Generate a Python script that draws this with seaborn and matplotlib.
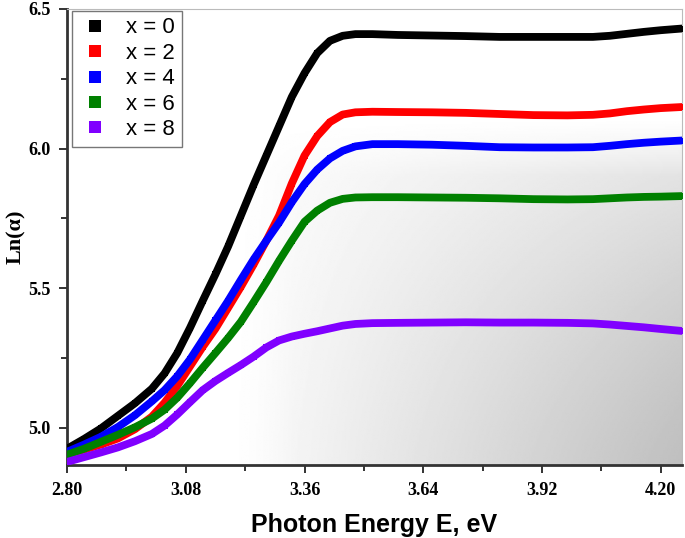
import numpy as np
import pandas as pd
import seaborn as sns
import matplotlib.pyplot as plt
from matplotlib.lines import Line2D

# Photon energy grid (eV) and Ln(alpha)
energy = [2.80, 2.84, 2.88, 2.92, 2.96, 3.00, 3.03, 3.06, 3.09, 3.12,
          3.15, 3.18, 3.21, 3.24, 3.27, 3.30, 3.33, 3.36, 3.39, 3.42,
          3.45, 3.48, 3.52, 3.58, 3.66, 3.74, 3.82, 3.90, 3.98, 4.04,
          4.08, 4.12, 4.16, 4.20, 4.25]

ln_x0 = [4.925, 4.960, 4.998, 5.043, 5.088, 5.140, 5.195, 5.268, 5.358, 5.455,
         5.550, 5.650, 5.760, 5.870, 5.975, 6.080, 6.185, 6.270, 6.342, 6.386,
         6.404, 6.410, 6.410, 6.407, 6.405, 6.403, 6.400, 6.400, 6.400, 6.400,
         6.404, 6.411, 6.418, 6.424, 6.430]

ln_x2 = [4.905, 4.922, 4.940, 4.962, 4.995, 5.040, 5.090, 5.150, 5.220, 5.290,
         5.355, 5.430, 5.505, 5.585, 5.670, 5.760, 5.875, 5.975, 6.045, 6.095,
         6.122, 6.130, 6.132, 6.131, 6.130, 6.128, 6.124, 6.120, 6.119, 6.121,
         6.126, 6.134, 6.140, 6.145, 6.149]

ln_x4 = [4.914, 4.940, 4.968, 5.003, 5.045, 5.095, 5.135, 5.185, 5.245, 5.315,
         5.385, 5.455, 5.530, 5.603, 5.670, 5.735, 5.808, 5.873, 5.925, 5.965,
         5.992, 6.008, 6.016, 6.016, 6.014, 6.010, 6.005, 6.004, 6.004, 6.005,
         6.010, 6.016, 6.021, 6.025, 6.029]

ln_x6 = [4.904, 4.925, 4.950, 4.975, 5.002, 5.033, 5.065, 5.108, 5.160, 5.215,
         5.268, 5.322, 5.380, 5.450, 5.522, 5.598, 5.670, 5.738, 5.778, 5.806,
         5.820, 5.825, 5.826, 5.826, 5.825, 5.824, 5.822, 5.819, 5.818, 5.819,
         5.822, 5.825, 5.827, 5.828, 5.830]

ln_x8 = [4.878, 4.895, 4.912, 4.930, 4.952, 4.978, 5.008, 5.048, 5.092, 5.135,
         5.168, 5.197, 5.225, 5.255, 5.288, 5.313, 5.327, 5.337, 5.346, 5.356,
         5.366, 5.372, 5.375, 5.376, 5.377, 5.378, 5.377, 5.377, 5.376, 5.374,
         5.370, 5.365, 5.360, 5.354, 5.347]

labels = ["x = 0", "x = 2", "x = 4", "x = 6", "x = 8"]
colors = ["#000000", "#ff0000", "#0000ff", "#008000", "#8000ff"]
series = [ln_x0, ln_x2, ln_x4, ln_x6, ln_x8]

sns.set_style("ticks", {"text.color": "black", "xtick.color": "black", "ytick.color": "black",
                        "axes.labelcolor": "black"})

fig = plt.figure(figsize=(6.85, 5.38), dpi=100)
ax = fig.add_axes([0.0978, 0.1357, 0.8978, 0.8476])

# soft grey shading in the lower right of the plot area
nx, ny = 300, 200
u = np.linspace(0, 1, nx)[None, :]
v = np.linspace(1, 0, ny)[:, None]
shade = 1 - 0.25 * (u ** 1.0) * (1 - 0.7 * v ** 1.3)
edge = np.clip(u * 6, 0, 1) * np.clip((1 - v) * 6, 0, 1)
shade = 1 - (1 - shade) * edge
ax.imshow(shade, cmap="gray", vmin=0, vmax=1, aspect="auto",
          extent=[0.24, 1.0, 0.0, 0.76], transform=ax.transAxes,
          zorder=0, interpolation="bilinear")

for vals, col, lab in zip(series, colors, labels):
    df = pd.DataFrame({"E": energy, "ln": vals})
    sns.lineplot(data=df, x="E", y="ln", color=col, linewidth=5.6,
                 marker="s", markersize=5, markeredgewidth=0,
                 ax=ax, zorder=3)

ax.set_xlim(2.80, 4.25)
ax.set_ylim(4.867, 6.5)
ax.set_xticks([2.80, 3.08, 3.36, 3.64, 3.92, 4.20])
ax.set_xticks([2.94, 3.22, 3.50, 3.78, 4.06], minor=True)
ax.set_yticks([5.0, 5.5, 6.0, 6.5])
ax.set_yticks([5.25, 5.75, 6.25], minor=True)
ax.set_xticklabels(["2.80", "3.08", "3.36", "3.64", "3.92", "4.20"])
ax.set_yticklabels(["5.0", "5.5", "6.0", "6.5"])

for lab in ax.get_xticklabels() + ax.get_yticklabels():
    lab.set_family("Liberation Serif")
    lab.set_weight("bold")
    lab.set_fontsize(13)

ax.tick_params(which="major", direction="out", length=6, width=1.4, color="#333333", pad=6)
ax.tick_params(which="minor", direction="out", length=4, width=1.4, color="#333333")

for side in ["left", "bottom"]:
    ax.spines[side].set_linewidth(2)
    ax.spines[side].set_color("#333333")
for side in ["top", "right"]:
    ax.spines[side].set_visible(True)
    ax.spines[side].set_linewidth(0.8)
    ax.spines[side].set_color("#bbbbbb")

ax.set_xlabel("Photon Energy E, eV", family="Liberation Sans", weight="bold",
              fontsize=18, labelpad=10)
ax.set_ylabel("Ln(\u03b1)", family="Liberation Serif", weight="bold", fontsize=16,
              va="center")
ax.yaxis.set_label_coords(-0.083, 0.5)

handles = [Line2D([], [], linestyle="none", marker="s", markersize=8,
                  color=c, markeredgewidth=0) for c in colors]
leg = ax.legend(handles, labels, loc="upper left", bbox_to_anchor=(0.008, 0.996),
                borderaxespad=0, frameon=True, fancybox=False,
                prop={"family": "Liberation Sans", "size": 16},
                handletextpad=0.65, borderpad=0.3, labelspacing=0.2, handlelength=1.5)
leg.get_frame().set_edgecolor("#555555")
leg.get_frame().set_linewidth(1)

fig.savefig("out.png", dpi=100)
